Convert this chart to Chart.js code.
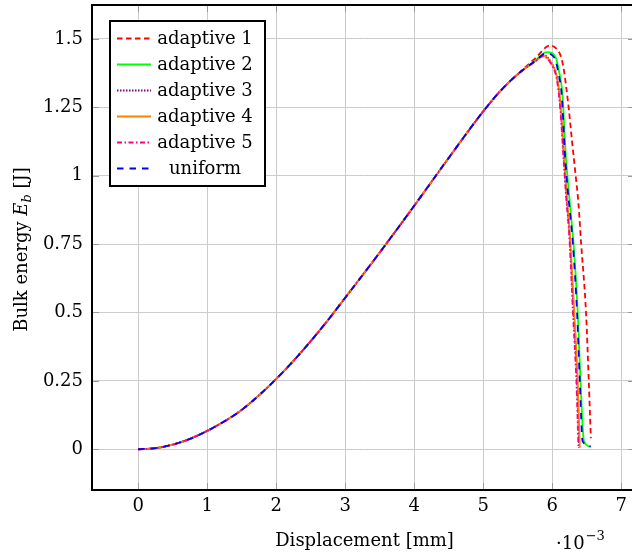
<!DOCTYPE html>
<html>
<head>
<meta charset="utf-8">
<script src="https://cdn.jsdelivr.net/npm/chart.js@4.4.1/dist/chart.umd.min.js"></script>
<style>
  html, body { margin: 0; padding: 0; background: #fff; overflow: hidden; }
  #wrap { position: relative; width: 640px; height: 553px; }
</style>
</head>
<body>
<div id="wrap"><canvas id="energy-chart"></canvas></div>
<script>
const xTicks = [0, 1, 2, 3, 4, 5, 6, 7];
const xTickLabels = ["0", "1", "2", "3", "4", "5", "6", "7"];
const yTicks = [0, 0.25, 0.5, 0.75, 1, 1.25, 1.5];
const yTickLabels = ["0", "0.25", "0.5", "0.75", "1", "1.25", "1.5"];

// loading branch shared by all runs (displacement in 1e-3 mm, energy in J)
const riseX = [0, 0.25, 0.5, 0.75, 1, 1.25, 1.5, 1.75, 2, 2.25, 2.5, 2.75, 3, 3.5, 4, 4.5, 5, 5.25, 5.5];
const riseY = [0, 0.004, 0.017, 0.038, 0.067, 0.102, 0.144, 0.197, 0.257, 0.323, 0.395, 0.472, 0.554, 0.719, 0.89, 1.065, 1.235, 1.31, 1.371];

// peak and softening branch of each run
const adaptive1X = [5.75, 5.97, 6.07, 6.12, 6.16, 6.2, 6.24, 6.29, 6.34, 6.38, 6.42, 6.49, 6.53, 6.56];
const adaptive1Y = [1.428, 1.476, 1.462, 1.44, 1.4, 1.33, 1.245, 1.12, 1.0, 0.9, 0.75, 0.5, 0.25, 0.04];
const adaptive2X = [5.75, 5.92, 6.05, 6.1, 6.14, 6.16, 6.19, 6.23, 6.27, 6.31, 6.37, 6.41, 6.46, 6.55];
const adaptive2Y = [1.42, 1.452, 1.433, 1.38, 1.32, 1.25, 1.1, 0.97, 0.86, 0.75, 0.5, 0.25, 0.03, 0.01];
const adaptive3X = [5.75, 5.88, 5.99, 6.07, 6.105, 6.135, 6.165, 6.205, 6.255, 6.31, 6.36, 6.39];
const adaptive3Y = [1.418, 1.44, 1.412, 1.36, 1.29, 1.2, 1.08, 0.93, 0.77, 0.5, 0.25, 0.005];
const adaptive4X = [5.75, 5.88, 5.99, 6.07, 6.11, 6.14, 6.17, 6.21, 6.26, 6.32, 6.37, 6.4];
const adaptive4Y = [1.417, 1.438, 1.41, 1.36, 1.29, 1.2, 1.08, 0.93, 0.77, 0.5, 0.25, 0.005];
const adaptive5X = [5.75, 5.87, 5.98, 6.06, 6.1, 6.13, 6.16, 6.2, 6.25, 6.3, 6.35, 6.38];
const adaptive5Y = [1.417, 1.437, 1.41, 1.36, 1.29, 1.2, 1.08, 0.93, 0.77, 0.5, 0.25, 0.005];
const uniformX = [5.75, 5.91, 6.04, 6.09, 6.13, 6.15, 6.18, 6.22, 6.26, 6.3, 6.36, 6.4, 6.44, 6.56];
const uniformY = [1.419, 1.447, 1.428, 1.375, 1.315, 1.25, 1.1, 0.96, 0.86, 0.75, 0.5, 0.25, 0.03, 0.01];

const FONT = '"DejaVu Serif", serif';

function curve(tailX, tailY) {
  const pts = riseX.map((x, i) => ({ x: x, y: riseY[i] }));
  return pts.concat(tailX.map((x, i) => ({ x: x, y: tailY[i] })));
}

function line(label, color, dash, data, order) {
  return {
    label: label,
    data: data,
    showLine: true,
    borderColor: color,
    backgroundColor: color,
    borderWidth: 1.8,
    borderDash: dash,
    pointRadius: 0,
    pointHoverRadius: 0,
    cubicInterpolationMode: "monotone",
    fill: false,
    order: order,
  };
}

const decorations = {
  id: "decorations",
  afterDatasetsDraw(chart) {
    const { ctx, chartArea: a, scales } = chart;
    const sx = scales.x, sy = scales.y;

    // inward tick marks on all four sides
    ctx.save();
    ctx.strokeStyle = "#999";
    ctx.lineWidth = 1;
    ctx.beginPath();
    xTicks.forEach((v) => {
      const px = Math.round(sx.getPixelForValue(v)) + 0.5;
      ctx.moveTo(px, a.bottom); ctx.lineTo(px, a.bottom - 7);
      ctx.moveTo(px, a.top); ctx.lineTo(px, a.top + 7);
    });
    yTicks.forEach((v) => {
      const py = Math.round(sy.getPixelForValue(v)) + 0.5;
      ctx.moveTo(a.left, py); ctx.lineTo(a.left + 7, py);
      ctx.moveTo(a.right, py); ctx.lineTo(a.right - 7, py);
    });
    ctx.stroke();

    // frame
    ctx.strokeStyle = "#000";
    ctx.lineWidth = 2;
    ctx.strokeRect(a.left, a.top, a.right - a.left, a.bottom - a.top);

    // legend
    const lx = a.left + 18, ly = a.top + 16, lw = 155, lh = 165;
    ctx.fillStyle = "#fff";
    ctx.fillRect(lx, ly, lw, lh);
    ctx.strokeRect(lx, ly, lw, lh);
    chart.data.datasets.forEach((ds, i) => {
      const cy = ly + 17.5 + i * 26;
      ctx.save();
      ctx.strokeStyle = ds.borderColor;
      ctx.lineWidth = ds.borderWidth;
      ctx.setLineDash(ds.borderDash || []);
      ctx.beginPath();
      ctx.moveTo(lx + 7, cy);
      ctx.lineTo(lx + 41, cy);
      ctx.stroke();
      ctx.restore();
      ctx.fillStyle = "#000";
      ctx.font = "18px " + FONT;
      ctx.textAlign = "center";
      ctx.textBaseline = "alphabetic";
      ctx.fillText(ds.label, lx + 95, cy + 5.5);
    });
    ctx.restore();
  },
  afterDraw(chart) {
    const { ctx, chartArea: a } = chart;
    ctx.save();
    ctx.fillStyle = "#000";
    ctx.textBaseline = "alphabetic";

    // x axis label
    ctx.font = "18px " + FONT;
    ctx.textAlign = "center";
    ctx.fillText("Displacement [mm]", (a.left + a.right) / 2 + 1, 546);

    // scale factor
    ctx.textAlign = "left";
    let x0 = 556;
    ctx.fillText("\u00b710", x0, 549);
    x0 += ctx.measureText("\u00b710").width + 1;
    ctx.font = "13px " + FONT;
    ctx.fillText("\u22123", x0, 540);

    // y axis label, rotated
    const parts = [
      { t: "Bulk energy ", f: "18px " + FONT, dy: 0 },
      { t: "E", f: "italic 18px " + FONT, dy: 0 },
      { t: "b", f: "italic 13px " + FONT, dy: 4 },
      { t: " [J]", f: "18px " + FONT, dy: 0 },
    ];
    let total = 0;
    parts.forEach((p) => { ctx.font = p.f; p.w = ctx.measureText(p.t).width; total += p.w; });
    ctx.translate(27, (a.top + a.bottom) / 2 + 2);
    ctx.rotate(-Math.PI / 2);
    let px = -total / 2;
    parts.forEach((p) => {
      ctx.font = p.f;
      ctx.fillText(p.t, px, p.dy);
      px += p.w;
    });
    ctx.restore();
  },
};

const energyChart = new Chart(document.getElementById("energy-chart"), {
  type: "scatter",
  data: {
    datasets: [
      line("adaptive 1", "#ff0000", [5.5, 3.5], curve(adaptive1X, adaptive1Y), 6),
      line("adaptive 2", "#00ff00", [], curve(adaptive2X, adaptive2Y), 5),
      line("adaptive 3", "#800080", [1.5, 1.5], curve(adaptive3X, adaptive3Y), 4),
      line("adaptive 4", "#ff8000", [], curve(adaptive4X, adaptive4Y), 3),
      line("adaptive 5", "#ff0080", [5, 2.5, 1.5, 2.5], curve(adaptive5X, adaptive5Y), 2),
      line("uniform", "#0000ff", [6.5, 6], curve(uniformX, uniformY), 1),
    ],
  },
  options: {
    responsive: true,
    maintainAspectRatio: false,
    animation: false,
    events: [],
    layout: { padding: { top: 5, right: 5, left: 0, bottom: 0 } },
    plugins: {
      legend: { display: false },
      tooltip: { enabled: false },
    },
    scales: {
      x: {
        type: "linear",
        min: -0.67,
        max: 7.2,
        afterBuildTicks: (s) => { s.ticks = xTicks.map((v) => ({ value: v })); },
        afterFit: (s) => { s.height = 63; s.paddingLeft = 0; s.paddingRight = 0; },
        grid: { color: "#cccccc", lineWidth: 1, drawTicks: false },
        border: { display: false },
        ticks: {
          padding: 6,
          color: "#000",
          font: { family: FONT, size: 18 },
          maxRotation: 0,
          callback: (v) => xTickLabels[xTicks.indexOf(v)],
        },
      },
      y: {
        type: "linear",
        min: -0.149,
        max: 1.624,
        afterBuildTicks: (s) => { s.ticks = yTicks.map((v) => ({ value: v })); },
        afterFit: (s) => { s.width = 92; s.paddingTop = 0; s.paddingBottom = 0; },
        grid: { color: "#cccccc", lineWidth: 1, drawTicks: false },
        border: { display: false },
        ticks: {
          padding: 9,
          color: "#000",
          font: { family: FONT, size: 18 },
          callback: (v) => yTickLabels[yTicks.indexOf(v)],
        },
      },
    },
  },
  plugins: [decorations],
});
</script>
</body>
</html>
